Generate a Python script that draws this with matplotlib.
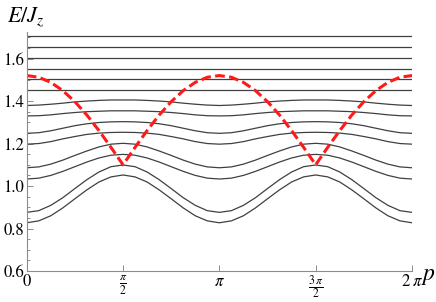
import numpy as np
import matplotlib
matplotlib.use("Agg")
import matplotlib.pyplot as plt
from matplotlib.ticker import MultipleLocator, FixedLocator

plt.rcParams['mathtext.fontset'] = 'stix'
plt.rcParams['font.family'] = ['STIXGeneral', 'DejaVu Serif']

# momentum grid: 0 .. 2pi in steps of pi/16
p = np.linspace(0, 2 * np.pi, 33)

# band readings at p = k*pi/16, bands listed bottom to top
band_D = [0.827, 0.836, 0.860, 0.897, 0.940, 0.982, 1.019, 1.043, 1.052, 1.043, 1.019, 0.982, 0.940, 0.897, 0.860, 0.836, 0.827,
          0.836, 0.860, 0.897, 0.940, 0.982, 1.019, 1.043, 1.052, 1.043, 1.019, 0.982, 0.940, 0.897, 0.860, 0.836, 0.827]
band_C = [0.876, 0.884, 0.909, 0.945, 0.988, 1.030, 1.066, 1.091, 1.099, 1.091, 1.066, 1.030, 0.988, 0.945, 0.909, 0.884, 0.876,
          0.884, 0.909, 0.945, 0.988, 1.030, 1.066, 1.091, 1.099, 1.091, 1.066, 1.030, 0.988, 0.945, 0.909, 0.884, 0.876]
band_B = [1.033, 1.037, 1.050, 1.069, 1.091, 1.113, 1.132, 1.145, 1.149, 1.145, 1.132, 1.113, 1.091, 1.069, 1.050, 1.037, 1.033,
          1.037, 1.050, 1.069, 1.091, 1.113, 1.132, 1.145, 1.149, 1.145, 1.132, 1.113, 1.091, 1.069, 1.050, 1.037, 1.033]
band_A = [1.086, 1.090, 1.103, 1.122, 1.144, 1.165, 1.184, 1.197, 1.201, 1.197, 1.184, 1.165, 1.144, 1.122, 1.103, 1.090, 1.086,
          1.090, 1.103, 1.122, 1.144, 1.165, 1.184, 1.197, 1.201, 1.197, 1.184, 1.165, 1.144, 1.122, 1.103, 1.090, 1.086]
band_10 = [1.197, 1.200, 1.209, 1.222, 1.233, 1.243, 1.249, 1.252, 1.253, 1.252, 1.249, 1.243, 1.233, 1.222, 1.209, 1.200, 1.197,
           1.200, 1.209, 1.222, 1.233, 1.243, 1.249, 1.252, 1.253, 1.252, 1.249, 1.243, 1.233, 1.222, 1.209, 1.200, 1.197]
band_9 = [1.248, 1.251, 1.260, 1.272, 1.284, 1.293, 1.299, 1.302, 1.303, 1.302, 1.299, 1.293, 1.284, 1.272, 1.260, 1.251, 1.248,
          1.251, 1.260, 1.272, 1.284, 1.293, 1.299, 1.302, 1.303, 1.302, 1.299, 1.293, 1.284, 1.272, 1.260, 1.251, 1.248]
band_8 = [1.330, 1.331, 1.335, 1.341, 1.346, 1.350, 1.352, 1.354, 1.354, 1.354, 1.352, 1.350, 1.346, 1.341, 1.335, 1.331, 1.330,
          1.331, 1.335, 1.341, 1.346, 1.350, 1.352, 1.354, 1.354, 1.354, 1.352, 1.350, 1.346, 1.341, 1.335, 1.331, 1.330]
band_7 = [1.379, 1.381, 1.385, 1.390, 1.396, 1.400, 1.403, 1.405, 1.405, 1.405, 1.403, 1.400, 1.396, 1.390, 1.385, 1.381, 1.379,
          1.381, 1.385, 1.390, 1.396, 1.400, 1.403, 1.405, 1.405, 1.405, 1.403, 1.400, 1.396, 1.390, 1.385, 1.381, 1.379]
band_6 = [1.453] * 33
band_5 = [1.504] * 33
band_4 = [1.552] * 33
band_3 = [1.602] * 33
band_2 = [1.654] * 33
band_1 = [1.707] * 33

bands = [band_D, band_C, band_B, band_A, band_10, band_9, band_8, band_7,
         band_6, band_5, band_4, band_3, band_2, band_1]

# red dashed bound-state curve
bound = [1.520, 1.512, 1.488, 1.449, 1.397, 1.334, 1.261, 1.182, 1.100, 1.182, 1.261, 1.334, 1.397, 1.449, 1.488, 1.512, 1.520,
         1.512, 1.488, 1.449, 1.397, 1.334, 1.261, 1.182, 1.100, 1.182, 1.261, 1.334, 1.397, 1.449, 1.488, 1.512, 1.520]

x_ticks = [0, np.pi / 2, np.pi, 3 * np.pi / 2, 2 * np.pi]
x_labels = [r"$0$", r"$\frac{\pi}{2}$", r"$\pi$", r"$\frac{3\,\pi}{2}$", r"$2\;\pi$"]
y_ticks = [0.6, 0.8, 1.0, 1.2, 1.4, 1.6]
y_labels = ["0.6", "0.8", "1.0", "1.2", "1.4", "1.6"]

fig = plt.figure(figsize=(4.36, 3.02), dpi=100)
ax = fig.add_axes([26.7 / 436, 31 / 302, (412 - 26.7) / 436, (271 - 32) / 302])

for b in bands:
    ax.plot(p, b, color='#404040', lw=0.9, solid_joinstyle='round')
ax.plot(p, bound, color='#ff1a1a', lw=2.2, dashes=(3.2, 1.4))

ax.set_xlim(0, 2 * np.pi)
ax.set_ylim(0.6, 1.725)
for s in ['top', 'right']:
    ax.spines[s].set_visible(False)
for s in ['left', 'bottom']:
    ax.spines[s].set_color('#8c8c8c')
    ax.spines[s].set_linewidth(0.8)

ax.xaxis.set_major_locator(FixedLocator(x_ticks))
ax.set_xticklabels(x_labels, fontsize=12)
ax.yaxis.set_major_locator(FixedLocator(y_ticks))
ax.set_yticklabels(y_labels, fontsize=12)
ax.yaxis.set_minor_locator(MultipleLocator(0.05))
ax.tick_params(axis='both', which='both', direction='in', color='#8c8c8c', width=0.7)
ax.tick_params(axis='both', which='major', length=4.5, pad=2)
ax.tick_params(axis='y', which='minor', length=2.5)

fig.text(7 / 436, 1 - 17 / 302, r"$E/J_z$", fontsize=16, va='center', ha='left')
fig.text(421 / 436, 1 - 276 / 302, r"$p$", fontsize=17, va='center', ha='left')

fig.savefig("out.png", dpi=100)
